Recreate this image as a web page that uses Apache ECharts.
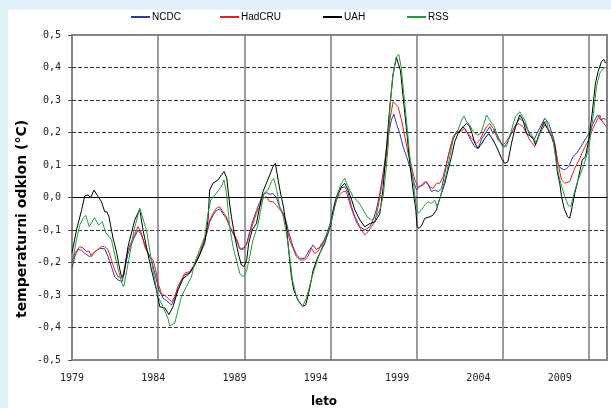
<!DOCTYPE html>
<html>
<head>
<meta charset="utf-8">
<script src="https://cdn.jsdelivr.net/npm/echarts@6/dist/echarts.min.js"></script>
<style>
  html, body { margin: 0; padding: 0; background: #e2f2fa; }
  #chart { width: 611px; height: 408px; }
</style>
</head>
<body>
<div id="chart"></div>
<script>
// Global temperature anomaly, 12-month running means, four datasets [year, °C]
const seriesNames = ['NCDC', 'HadCRU', 'UAH', 'RSS'];

const NCDC = [
  [1979.00,-0.218],[1979.16,-0.182],[1979.35,-0.160],[1979.55,-0.162],[1979.74,-0.172],
  [1980.03,-0.182],[1980.32,-0.167],[1980.61,-0.156],[1980.90,-0.158],[1981.09,-0.182],
  [1981.29,-0.213],[1981.48,-0.244],[1981.67,-0.254],[1981.92,-0.259],[1982.06,-0.220],
  [1982.25,-0.172],[1982.54,-0.131],[1982.83,-0.100],[1983.03,-0.115],[1983.32,-0.160],
  [1983.61,-0.192],[1983.86,-0.244],[1984.05,-0.285],[1984.28,-0.310],[1984.57,-0.321],
  [1984.77,-0.331],[1984.96,-0.310],[1985.15,-0.274],[1985.35,-0.255],[1985.54,-0.238],
  [1985.83,-0.232],[1986.02,-0.215],[1986.22,-0.197],[1986.41,-0.177],[1986.60,-0.146],
  [1986.80,-0.115],[1986.99,-0.075],[1987.18,-0.055],[1987.38,-0.040],[1987.57,-0.035],
  [1987.76,-0.050],[1987.96,-0.065],[1988.15,-0.090],[1988.34,-0.110],[1988.54,-0.130],
  [1988.73,-0.158],[1988.92,-0.160],[1989.12,-0.145],[1989.31,-0.105],[1989.50,-0.070],
  [1989.70,-0.040],[1989.89,-0.015],[1990.08,0.008],[1990.28,0.015],[1990.47,0.010],
  [1990.66,0.012],[1990.86,0.000],[1991.05,-0.030],[1991.24,-0.050],[1991.40,-0.069],
  [1991.59,-0.110],[1991.82,-0.151],[1992.02,-0.175],[1992.21,-0.187],[1992.50,-0.187],
  [1992.79,-0.160],[1992.99,-0.146],[1993.18,-0.160],[1993.47,-0.150],[1993.76,-0.115],
  [1993.95,-0.085],[1994.15,-0.038],[1994.34,0.003],[1994.53,0.028],[1994.82,0.033],
  [1995.02,0.015],[1995.21,-0.028],[1995.41,-0.059],[1995.70,-0.090],[1995.99,-0.100],
  [1996.28,-0.090],[1996.47,-0.069],[1996.66,-0.038],[1996.86,0.013],[1997.05,0.074],
  [1997.24,0.146],[1997.34,0.187],[1997.53,0.238],[1997.67,0.257],[1997.82,0.228],
  [1998.02,0.197],[1998.21,0.156],[1998.41,0.126],[1998.60,0.095],[1998.79,0.054],
  [1998.99,0.023],[1999.08,0.023],[1999.27,0.038],[1999.47,0.049],[1999.66,0.040],
  [1999.86,0.018],[2000.05,0.023],[2000.24,0.018],[2000.44,0.028],[2000.63,0.074],
  [2000.82,0.126],[2001.02,0.167],[2001.21,0.192],[2001.44,0.203],[2001.69,0.218],
  [2001.95,0.197],[2002.14,0.177],[2002.37,0.156],[2002.56,0.151],[2002.79,0.182],
  [2003.05,0.203],[2003.24,0.218],[2003.43,0.197],[2003.53,0.210],[2003.72,0.187],
  [2004.01,0.156],[2004.21,0.165],[2004.69,0.218],[2004.98,0.244],[2005.27,0.228],
  [2005.56,0.192],[2005.81,0.177],[2006.08,0.208],[2006.43,0.244],[2006.66,0.228],
  [2006.97,0.177],[2007.17,0.105],[2007.36,0.090],[2007.59,0.085],[2007.82,0.095],
  [2008.07,0.126],[2008.27,0.136],[2008.52,0.156],[2008.75,0.177],[2009.00,0.197],
  [2009.23,0.228],[2009.49,0.254],[2009.68,0.238],[2009.87,0.244],[2009.97,0.238]
];

const HadCRU = [
  [1979.00,-0.202],[1979.16,-0.172],[1979.45,-0.151],[1979.64,-0.155],[1979.84,-0.167],
  [1980.00,-0.165],[1980.13,-0.182],[1980.32,-0.167],[1980.51,-0.160],[1980.71,-0.151],
  [1980.90,-0.151],[1981.09,-0.160],[1981.29,-0.192],[1981.48,-0.223],[1981.67,-0.244],
  [1981.92,-0.249],[1982.06,-0.213],[1982.25,-0.160],[1982.54,-0.126],[1982.83,-0.090],
  [1983.03,-0.110],[1983.22,-0.151],[1983.51,-0.182],[1983.70,-0.192],[1983.86,-0.223],
  [1983.99,-0.264],[1984.19,-0.295],[1984.48,-0.305],[1984.77,-0.321],[1984.96,-0.305],
  [1985.15,-0.274],[1985.35,-0.254],[1985.54,-0.233],[1985.83,-0.228],[1986.02,-0.213],
  [1986.22,-0.192],[1986.41,-0.172],[1986.60,-0.141],[1986.80,-0.110],[1986.99,-0.069],
  [1987.18,-0.049],[1987.38,-0.033],[1987.57,-0.028],[1987.76,-0.044],[1987.96,-0.059],
  [1988.15,-0.090],[1988.34,-0.105],[1988.54,-0.126],[1988.73,-0.156],[1988.92,-0.156],
  [1989.12,-0.146],[1989.31,-0.110],[1989.50,-0.080],[1989.70,-0.049],[1989.89,-0.028],
  [1990.08,-0.003],[1990.28,0.003],[1990.47,-0.013],[1990.66,-0.013],[1990.86,-0.023],
  [1991.05,-0.038],[1991.24,-0.045],[1991.44,-0.090],[1991.63,-0.131],[1991.82,-0.156],
  [1992.02,-0.182],[1992.21,-0.192],[1992.50,-0.192],[1992.69,-0.182],[1992.89,-0.156],
  [1993.08,-0.172],[1993.28,-0.165],[1993.47,-0.141],[1993.66,-0.131],[1993.95,-0.090],
  [1994.15,-0.049],[1994.34,-0.008],[1994.53,0.008],[1994.73,0.018],[1994.92,0.018],
  [1995.11,-0.018],[1995.31,-0.049],[1995.54,-0.080],[1995.79,-0.100],[1995.99,-0.115],
  [1996.18,-0.105],[1996.37,-0.090],[1996.57,-0.074],[1996.76,-0.028],[1996.96,0.033],
  [1997.15,0.095],[1997.34,0.177],[1997.44,0.238],[1997.63,0.295],[1997.74,0.300],
  [1997.92,0.279],[1998.12,0.238],[1998.31,0.187],[1998.50,0.136],[1998.70,0.095],
  [1998.89,0.054],[1999.08,0.033],[1999.18,0.028],[1999.37,0.038],[1999.57,0.049],
  [1999.76,0.033],[1999.95,0.028],[2000.15,0.044],[2000.34,0.044],[2000.53,0.064],
  [2000.73,0.105],[2000.92,0.146],[2001.11,0.187],[2001.31,0.203],[2001.56,0.203],
  [2001.79,0.213],[2001.98,0.197],[2002.18,0.182],[2002.47,0.167],[2002.66,0.177],
  [2002.85,0.197],[2003.05,0.218],[2003.24,0.228],[2003.43,0.213],[2003.72,0.177],
  [2004.01,0.162],[2004.21,0.172],[2004.59,0.208],[2004.88,0.228],[2005.17,0.218],
  [2005.56,0.177],[2005.85,0.156],[2006.14,0.197],[2006.43,0.223],[2006.72,0.205],
  [2007.01,0.167],[2007.20,0.105],[2007.40,0.054],[2007.59,0.044],[2007.88,0.049],
  [2008.17,0.090],[2008.46,0.120],[2008.75,0.155],[2009.00,0.180],[2009.23,0.213],
  [2009.52,0.244],[2009.62,0.254],[2009.75,0.236],[2009.99,0.218]
];

const UAH = [
  [1979.00,-0.170],[1979.26,-0.100],[1979.55,-0.040],[1979.74,0.005],[1979.93,0.008],
  [1980.09,0.000],[1980.28,0.023],[1980.51,0.003],[1980.71,-0.013],[1980.90,-0.044],
  [1981.03,-0.044],[1981.15,-0.060],[1981.38,-0.125],[1981.58,-0.167],[1981.73,-0.210],
  [1981.87,-0.244],[1982.00,-0.240],[1982.25,-0.151],[1982.64,-0.069],[1982.93,-0.036],
  [1983.12,-0.100],[1983.35,-0.160],[1983.61,-0.223],[1983.90,-0.285],[1984.09,-0.336],
  [1984.38,-0.340],[1984.63,-0.360],[1984.86,-0.336],[1985.15,-0.285],[1985.44,-0.250],
  [1985.83,-0.233],[1986.12,-0.208],[1986.31,-0.187],[1986.70,-0.141],[1986.89,-0.069],
  [1986.99,0.023],[1987.18,0.044],[1987.47,0.054],[1987.67,0.069],[1987.82,0.080],
  [1987.98,0.060],[1988.09,0.003],[1988.25,-0.059],[1988.44,-0.120],[1988.67,-0.177],
  [1988.83,-0.208],[1988.98,-0.213],[1989.14,-0.190],[1989.25,-0.141],[1989.45,-0.100],
  [1989.70,-0.080],[1989.89,-0.028],[1990.08,0.018],[1990.28,0.044],[1990.47,0.069],
  [1990.66,0.095],[1990.80,0.105],[1990.94,0.060],[1991.11,0.010],[1991.24,-0.020],
  [1991.44,-0.090],[1991.59,-0.172],[1991.73,-0.244],[1991.87,-0.285],[1992.10,-0.315],
  [1992.39,-0.335],[1992.56,-0.330],[1992.79,-0.280],[1992.99,-0.223],[1993.28,-0.182],
  [1993.66,-0.141],[1994.01,-0.085],[1994.24,-0.018],[1994.63,0.033],[1994.82,0.044],
  [1995.02,0.023],[1995.21,-0.005],[1995.41,-0.038],[1995.70,-0.069],[1995.99,-0.090],
  [1996.28,-0.080],[1996.57,-0.075],[1996.86,-0.050],[1997.05,0.030],[1997.24,0.150],
  [1997.44,0.280],[1997.63,0.380],[1997.82,0.431],[1997.92,0.425],[1998.06,0.390],
  [1998.21,0.310],[1998.41,0.208],[1998.60,0.105],[1998.79,0.023],[1998.95,-0.040],
  [1999.02,-0.090],[1999.14,-0.095],[1999.29,-0.085],[1999.47,-0.064],[1999.76,-0.059],
  [1999.93,-0.055],[2000.15,-0.038],[2000.28,-0.013],[2000.44,0.013],[2000.63,0.044],
  [2000.82,0.085],[2001.02,0.126],[2001.21,0.172],[2001.40,0.197],[2001.63,0.213],
  [2001.89,0.228],[2002.06,0.220],[2002.21,0.197],[2002.37,0.167],[2002.56,0.151],
  [2002.76,0.165],[2002.95,0.182],[2003.18,0.197],[2003.43,0.177],[2003.72,0.146],
  [2003.92,0.120],[2004.11,0.105],[2004.29,0.110],[2004.50,0.167],[2004.73,0.218],
  [2004.98,0.254],[2005.17,0.238],[2005.37,0.197],[2005.56,0.190],[2005.75,0.182],
  [2005.89,0.162],[2006.14,0.200],[2006.39,0.233],[2006.62,0.208],[2006.82,0.187],
  [2007.01,0.156],[2007.17,0.074],[2007.30,0.044],[2007.40,0.003],[2007.55,-0.033],
  [2007.75,-0.059],[2007.88,-0.064],[2008.02,-0.028],[2008.17,0.013],[2008.36,0.054],
  [2008.60,0.115],[2008.79,0.126],[2008.98,0.177],[2009.18,0.259],[2009.37,0.351],
  [2009.52,0.387],[2009.72,0.418],[2009.84,0.425],[2009.97,0.413]
];

const RSS = [
  [1979.02,-0.200],[1979.26,-0.130],[1979.45,-0.085],[1979.64,-0.064],[1979.80,-0.055],
  [1980.00,-0.090],[1980.30,-0.062],[1980.55,-0.085],[1980.75,-0.074],[1980.95,-0.107],
  [1981.29,-0.131],[1981.55,-0.192],[1981.73,-0.233],[1981.90,-0.264],[1982.00,-0.275],
  [1982.30,-0.190],[1982.60,-0.100],[1982.93,-0.033],[1983.32,-0.100],[1983.70,-0.223],
  [1983.99,-0.305],[1984.28,-0.336],[1984.57,-0.372],[1984.67,-0.395],[1984.96,-0.387],
  [1985.15,-0.346],[1985.35,-0.305],[1985.64,-0.274],[1985.93,-0.244],[1986.12,-0.200],
  [1986.41,-0.160],[1986.70,-0.120],[1986.89,-0.049],[1987.05,-0.008],[1987.24,0.003],
  [1987.44,0.018],[1987.67,0.033],[1987.82,0.054],[1987.96,0.013],[1988.15,-0.090],
  [1988.34,-0.151],[1988.54,-0.192],[1988.73,-0.233],[1988.92,-0.244],[1989.12,-0.228],
  [1989.31,-0.182],[1989.50,-0.131],[1989.76,-0.090],[1989.95,-0.038],[1990.14,0.013],
  [1990.37,0.023],[1990.57,0.049],[1990.70,0.059],[1990.86,0.028],[1991.05,-0.028],
  [1991.24,-0.055],[1991.44,-0.110],[1991.63,-0.182],[1991.79,-0.254],[1992.00,-0.300],
  [1992.20,-0.325],[1992.39,-0.334],[1992.60,-0.310],[1992.80,-0.270],[1992.99,-0.233],
  [1993.37,-0.172],[1993.76,-0.120],[1994.05,-0.074],[1994.24,-0.028],[1994.44,0.013],
  [1994.63,0.044],[1994.82,0.059],[1994.92,0.064],[1995.11,0.023],[1995.31,0.003],
  [1995.50,-0.008],[1995.70,-0.020],[1995.89,-0.038],[1996.12,-0.059],[1996.37,-0.069],
  [1996.66,-0.059],[1996.86,-0.038],[1997.05,0.003],[1997.20,0.074],[1997.34,0.156],
  [1997.44,0.270],[1997.60,0.370],[1997.80,0.430],[1997.96,0.441],[1998.10,0.400],
  [1998.21,0.341],[1998.44,0.218],[1998.60,0.126],[1998.79,0.054],[1998.93,-0.010],
  [1999.08,-0.049],[1999.27,-0.038],[1999.47,-0.023],[1999.66,-0.013],[1999.86,-0.018],
  [2000.05,-0.008],[2000.18,-0.028],[2000.34,-0.003],[2000.53,0.033],[2000.73,0.074],
  [2000.92,0.126],[2001.11,0.177],[2001.25,0.197],[2001.40,0.208],[2001.60,0.238],
  [2001.75,0.251],[2001.89,0.233],[2002.08,0.223],[2002.27,0.203],[2002.53,0.192],
  [2002.72,0.197],[2002.91,0.228],[2003.05,0.254],[2003.24,0.238],[2003.43,0.223],
  [2003.53,0.215],[2003.72,0.180],[2004.00,0.156],[2004.20,0.156],[2004.50,0.208],
  [2004.73,0.249],[2004.98,0.264],[2005.27,0.238],[2005.46,0.208],[2005.70,0.190],
  [2005.95,0.167],[2006.14,0.197],[2006.43,0.228],[2006.53,0.238],[2006.62,0.213],
  [2006.91,0.177],[2007.11,0.105],[2007.30,0.054],[2007.59,0.003],[2007.78,-0.023],
  [2007.94,-0.028],[2008.13,0.013],[2008.36,0.054],[2008.60,0.085],[2008.85,0.126],
  [2009.04,0.172],[2009.23,0.249],[2009.43,0.341],[2009.62,0.382],[2009.81,0.397],
  [2009.97,0.400]
];

const seriesData = [NCDC, HadCRU, UAH, RSS];
const seriesColors = ['#2b3c9e', '#ec1c24', '#000000', '#1e9e3c'];

// tick settings
const yMin = -0.5, yMax = 0.5, yStep = 0.1;
const gridYearMin = 1979, gridYearMax = 2010.04, yearStep = 5;
const labelYearMax = 2011.91;

// left edge of each legend entry
const legendLeft = [131, 220, 323, 407];

const chart = echarts.init(document.getElementById('chart'), null, { renderer: 'canvas' });

const option = {
  animation: false,
  backgroundColor: '#e2f2fa',
  graphic: [
    { type: 'rect', z: -10, silent: true,
      shape: { x: 8, y: 10, width: 610, height: 410 },
      style: { fill: '#ffffff' } },
    { type: 'text', silent: true, x: 22, y: 219, rotation: Math.PI / 2,
      style: { text: 'temperaturni odklon (°C)', font: 'bold 14px "DejaVu Sans"',
               fill: '#000', align: 'center', verticalAlign: 'middle' } },
    { type: 'text', silent: true, x: 324, y: 402,
      style: { text: 'leto', font: 'bold 12px "DejaVu Sans"',
               fill: '#000', align: 'center', verticalAlign: 'middle' } }
  ],
  legend: seriesNames.map((name, i) => ({
    data: [name],
    left: legendLeft[i], top: 12, padding: 0,
    itemWidth: 19, itemHeight: 2,
    icon: 'rect',
    textStyle: { fontFamily: '"Liberation Sans"', fontSize: 10, color: '#000', padding: [0, 0, 0, -3] }
  })),
  grid: {
    left: 72, right: 4, top: 35, bottom: 48,
    show: true, borderColor: '#858585', borderWidth: 2, backgroundColor: 'transparent'
  },
  xAxis: [
    {
      type: 'value', min: gridYearMin, max: gridYearMax, interval: yearStep,
      axisLine: { show: true, onZero: true, lineStyle: { color: '#000', width: 1 } },
      axisTick: { show: false },
      axisLabel: { show: false },
      splitLine: { show: true, showMinLine: false, showMaxLine: false,
                   lineStyle: { color: '#7a7a7a', width: 1.5 } }
    },
    {
      type: 'value', position: 'bottom', min: gridYearMin, max: labelYearMax, interval: yearStep,
      axisLine: { show: false, onZero: false },
      axisTick: { show: false },
      splitLine: { show: false },
      axisLabel: {
        show: true, margin: 13, showMaxLabel: false,
        fontFamily: '"DejaVu Sans Mono"', fontSize: 10, color: '#222',
        formatter: v => String(Math.round(v))
      }
    }
  ],
  yAxis: {
    type: 'value', min: yMin, max: yMax, interval: yStep,
    axisLine: { show: false },
    axisTick: { show: true, inside: false, length: 4, lineStyle: { color: '#555' } },
    axisLabel: {
      margin: 11, fontFamily: '"DejaVu Sans Mono"', fontSize: 10, color: '#222',
      formatter: v => v.toFixed(1).replace('-0.0', '0.0').replace('.', ',')
    },
    splitLine: { show: true, showMinLine: false, showMaxLine: false,
                 lineStyle: { color: '#333', width: 1, type: [4, 2] } }
  },
  series: seriesNames.map((name, i) => ({
    name,
    type: 'line',
    xAxisIndex: 0,
    data: seriesData[i],
    showSymbol: false,
    symbol: 'none',
    color: seriesColors[i],
    lineStyle: { width: 1, color: seriesColors[i] },
    z: 3 + i
  }))
};

chart.setOption(option);
</script>
</body>
</html>
